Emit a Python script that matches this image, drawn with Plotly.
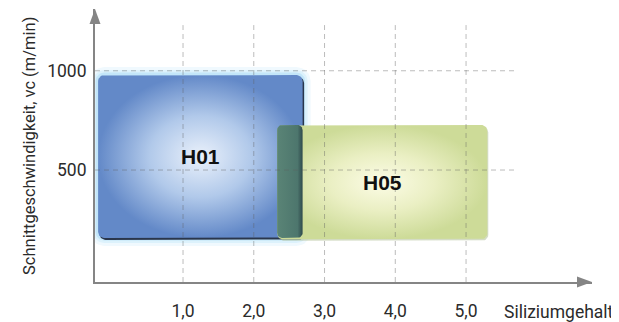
import numpy as np
import plotly.graph_objects as go

# ---------------- data ----------------
si_ticks = [1, 2, 3, 4, 5]
si_labels = ["1,0", "2,0", "3,0", "4,0", "5,0"]
vc_ticks = [500, 1000]
vc_labels = ["500", "1000"]

grades = ["H01", "H05"]
si_min = [-0.2, 2.33]
si_max = [2.69, 5.30]
vc_min = [158, 151]
vc_max = [978, 727]

x_title = "Siliziumgehalt"
y_title = "Schnittgeschwindigkeit, vc (m/min)"

# ---------------- layout constants ----------------
X_RANGE = [-0.244, 6.78]
Y_RANGE = [-64, 1311]
GRID_X_END = 5.71
GRID_Y_END = 1230

OFF = 8  # default page (body) margin of the written html
W, H = 619 - OFF, 322 - OFF
L, R, T, B = 95 - OFF, 27, 9 - OFF, 40
pw, ph = W - L - R, H - T - B
sx = pw / (X_RANGE[1] - X_RANGE[0])
sy = ph / (Y_RANGE[1] - Y_RANGE[0])

FONT = "Roboto, Liberation Sans Narrow, Arial, sans-serif"
FS = 16.5
FS_X = 17.5
AXIS_COL = "#858585"


def rrect(x0, x1, y0, y1, r_px=6, grow_px=0.0, dx_px=0.0, dy_px=0.0):
    gx, gy = grow_px / sx, grow_px / sy
    x0, x1, y0, y1 = x0 - gx + dx_px / sx, x1 + gx + dx_px / sx, y0 - gy + dy_px / sy, y1 + gy + dy_px / sy
    rx, ry = (r_px + grow_px) / sx, (r_px + grow_px) / sy
    pts = []
    for cx, cy, a0 in [(x1 - rx, y1 - ry, 0), (x0 + rx, y1 - ry, 90),
                       (x0 + rx, y0 + ry, 180), (x1 - rx, y0 + ry, 270)]:
        for t in np.linspace(a0, a0 + 90, 9):
            pts.append((cx + rx * np.cos(np.radians(t)), cy + ry * np.sin(np.radians(t))))
    pts.append(pts[0])
    xs, ys = zip(*pts)
    return list(xs), list(ys)


fig = go.Figure()


def add_fill(xs, ys, color=None, gradient=None):
    kw = dict(x=xs, y=ys, mode="lines", fill="toself", line=dict(width=0),
              hoverinfo="skip", showlegend=False)
    if gradient is not None:
        kw["fillgradient"] = gradient
    else:
        kw["fillcolor"] = color
    fig.add_trace(go.Scatter(**kw))


# H01 glow
i = 0
for g, c in [(8, "rgba(212,239,252,0.35)"), (5, "rgba(198,233,251,0.45)"), (2.5, "rgba(178,222,247,0.6)")]:
    xs, ys = rrect(si_min[i], si_max[i], vc_min[i], vc_max[i], grow_px=g)
    add_fill(xs, ys, c)
# H01 shadow
xs, ys = rrect(si_min[i], si_max[i], vc_min[i], vc_max[i], dx_px=1.5, dy_px=-2)
add_fill(xs, ys, "#2a364c")
# H01 body
xs, ys = rrect(si_min[i], si_max[i], vc_min[i], vc_max[i])
add_fill(xs, ys, gradient=dict(type="radial", colorscale=[[0, "#eaf1fb"], [0.5, "#b1c9ea"], [1, "#6389c8"]]))

# H05 body
i = 1
xs, ys = rrect(si_min[i], si_max[i], vc_min[i], vc_max[i], dx_px=1, dy_px=-1.5)
add_fill(xs, ys, "rgba(170,185,140,0.5)")
xs, ys = rrect(si_min[i], si_max[i], vc_min[i], vc_max[i])
add_fill(xs, ys, gradient=dict(type="radial", colorscale=[[0, "#fcfce6"], [0.5, "#eaefc3"], [1, "#cddb98"]]))

# overlap region
ox0, ox1 = max(si_min), min(si_max)
oy0, oy1 = max(vc_min), min(vc_max)
xs, ys = rrect(ox0, ox1, oy0, oy1, r_px=5)
add_fill(xs, ys, gradient=dict(type="horizontal", colorscale=[[0, "#5a8476"], [0.8, "#4d766d"], [1, "#2f4a4c"]]))

# grid
gx, gy = [], []
for v in si_ticks:
    gx += [v, v, None]
    gy += [Y_RANGE[0], GRID_Y_END, None]
for v in vc_ticks:
    gx += [X_RANGE[0], GRID_X_END, None]
    gy += [v, v, None]
fig.add_trace(go.Scatter(x=gx, y=gy, mode="lines", hoverinfo="skip", showlegend=False,
                         line=dict(color="rgba(95,95,95,0.42)", width=1, dash="5px,4px")))

# grade labels
for k, name in enumerate(grades):
    fig.add_annotation(x=(si_min[k] + si_max[k]) / 2, y=(vc_min[k] + vc_max[k]) / 2,
                       text="<b>%s</b>" % name, showarrow=False,
                       font=dict(family="Liberation Sans, Arial, sans-serif", size=21, color="#111"))

# axis titles (reference-pixel positions converted to paper coords)
bottom_px = H - B + OFF
fig.add_annotation(xref="paper", yref="paper", x=(502 - OFF - L) / pw, y=-(312 - bottom_px) / ph,
                   xanchor="left", yanchor="middle", text=x_title, showarrow=False,
                   font=dict(family=FONT, size=FS_X, color="#2b2b2b"))
fig.add_annotation(xref="paper", yref="paper", x=(29 - OFF - L) / pw, y=(bottom_px - 146) / ph,
                   xanchor="center", yanchor="middle", text=y_title, textangle=-90, showarrow=False,
                   font=dict(family=FONT, size=FS, color="#2b2b2b"))

# arrowheads
fig.add_shape(type="path", xref="paper", yref="paper", xsizemode="pixel", ysizemode="pixel",
              xanchor=1, yanchor=0, path="M0,0 L-15,5.5 L-15,-5.5 Z",
              fillcolor=AXIS_COL, line=dict(width=0))
fig.add_shape(type="path", xref="paper", yref="paper", xsizemode="pixel", ysizemode="pixel",
              xanchor=0, yanchor=1, path="M0,0 L-5.5,-15 L5.5,-15 Z",
              fillcolor=AXIS_COL, line=dict(width=0))

fig.update_layout(
    width=W, height=H, margin=dict(l=L, r=R, t=T, b=B, autoexpand=False),
    paper_bgcolor="white", plot_bgcolor="white",
    font=dict(family=FONT, size=FS, color="#2b2b2b"),
    xaxis=dict(range=X_RANGE, showgrid=False, zeroline=False, showline=True, linecolor=AXIS_COL,
               linewidth=2, tickvals=si_ticks, ticktext=si_labels, ticks="", ticklabelstandoff=12,
               tickfont=dict(size=FS_X), automargin=False, fixedrange=True),
    yaxis=dict(range=Y_RANGE, showgrid=False, zeroline=False, showline=True, linecolor=AXIS_COL,
               linewidth=2, tickvals=vc_ticks, ticktext=vc_labels, ticks="", ticklabelstandoff=3,
               tickfont=dict(size=FS_X), automargin=False, fixedrange=True),
)

fig.write_html("out.html", config={"displayModeBar": False})
